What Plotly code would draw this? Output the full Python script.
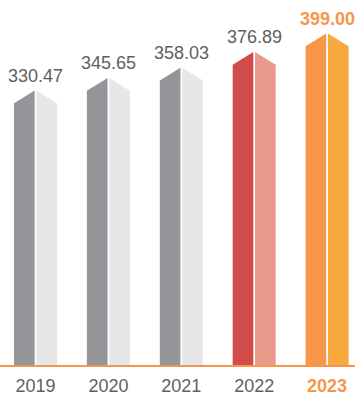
import plotly.graph_objects as go

years = ["2019", "2020", "2021", "2022", "2023"]
values = [330.47, 345.65, 358.03, 376.89, 399.00]
labels = ["330.47", "345.65", "358.03", "376.89", "399.00"]
left_colors = ["#939598", "#939598", "#939598", "#d14b49", "#f7964a"]
right_colors = ["#e6e7e8", "#e6e7e8", "#e6e7e8", "#e89a8b", "#f9a840"]
label_colors = ["#5f6062", "#5f6062", "#5f6062", "#5f6062", "#f7964a"]

HW = 0.295   # half bar width (x units)
GAP = 0.012  # half gap between halves
ROOF = 16.0  # roof rise (y units)

fig = go.Figure()
for i, v in enumerate(values):
    shoulder = v - ROOF
    frac = GAP / HW
    top_inner = v - ROOF * frac
    fig.add_trace(go.Scatter(
        x=[i - HW, i - HW, i - GAP, i - GAP, i - HW],
        y=[0, shoulder, top_inner, 0, 0],
        fill="toself", fillcolor=left_colors[i], mode="none",
        line=dict(width=0), hoverinfo="skip", showlegend=False))
    fig.add_trace(go.Scatter(
        x=[i + GAP, i + GAP, i + HW, i + HW, i + GAP],
        y=[0, top_inner, shoulder, 0, 0],
        fill="toself", fillcolor=right_colors[i], mode="none",
        line=dict(width=0), hoverinfo="skip", showlegend=False))
    bold = i == len(values) - 1
    fig.add_annotation(
        x=i, y=v, text=("<b>%s</b>" % labels[i]) if bold else labels[i],
        showarrow=False, yanchor="middle", yshift=14,
        font=dict(family="Liberation Sans, Arial, sans-serif", size=18,
                  color=label_colors[i]))

ticktext = []
for i, y in enumerate(years):
    if i == len(years) - 1:
        ticktext.append("<b><span style='color:#f7964a'>%s</span></b>" % y)
    else:
        ticktext.append(y)

fig.update_layout(
    width=355, height=396,
    margin=dict(l=0, r=0, t=0, b=31),
    paper_bgcolor="white", plot_bgcolor="white",
    xaxis=dict(range=[-0.487, 4.383], tickmode="array",
               tickvals=list(range(len(years))), ticktext=ticktext,
               showgrid=False, zeroline=False, showline=True,
               linecolor="#f7964a", linewidth=2, ticks="",
               ticklabelstandoff=3, automargin=False,
               tickfont=dict(family="Liberation Sans, Arial, sans-serif",
                             size=18, color="#5f6062"),
               fixedrange=True),
    yaxis=dict(range=[0, 438.7], visible=False, showgrid=False,
               zeroline=False, fixedrange=True, automargin=False),
)

fig.write_html("out.html", config={"displayModeBar": False})
